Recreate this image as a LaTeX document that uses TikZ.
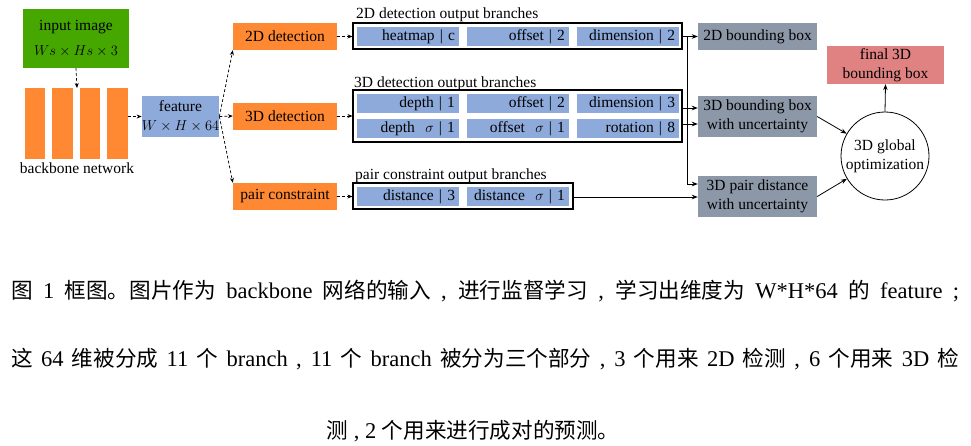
\documentclass[tikz,border=0pt]{standalone}
\usepackage{fontspec}
\setmainfont{Liberation Serif}
\newfontfamily\cjk[Scale=0.96]{Noto Sans CJK SC}
\usetikzlibrary{arrows.meta}
\definecolor{cgreen}{HTML}{45A700}
\definecolor{corange}{HTML}{FF8833}
\definecolor{cblue}{HTML}{8EAADB}
\definecolor{cgray}{HTML}{8C97A8}
\definecolor{cpink}{HTML}{E08282}
\begin{document}
\begin{tikzpicture}[x=1pt,y=-1pt,
  font=\fontsize{15.5}{19}\selectfont,
  base/.style={inner sep=0pt, align=center, text=black},
  orangebox/.style={base, fill=corange, minimum width=104pt, minimum height=27pt},
  bar/.style={base, fill=corange, minimum width=20.5pt, minimum height=71pt},
  cellbox/.style={base, fill=cblue, minimum width=102pt, minimum height=19pt, text width=94pt, align=right},
  framebox/.style={draw=black, line width=1.1pt, fill=white, inner sep=0pt},
  graybox/.style={base, fill=cgray, minimum width=119pt},
  lbl/.style={inner sep=0pt, anchor=base west},
  darr/.style={densely dashed, line width=0.7pt, -{Stealth[length=5pt,width=4pt]}},
  sarr/.style={line width=0.8pt, -{Stealth[length=6pt,width=4.5pt]}},
  capfont/.style={font=\fontsize{22.5}{26}\selectfont, inner sep=0pt}
]
\useasboundingbox (0,0) rectangle (971,445);
\fill[white] (0,0) rectangle (971,445);

% input and backbone
\node[base, fill=cgreen, minimum width=106pt, minimum height=59pt] (inp) at (76,38.5) {input image\\[6pt]$Ws\times Hs\times 3$};
\node[bar] (bar1) at (35,123.5) {};
\node[bar] (bar2) at (62.5,123.5) {};
\node[bar] (bar3) at (90,123.5) {};
\node[bar] (bar4) at (117.5,123.5) {};
\node[inner sep=0pt] (bbl) at (77,168) {backbone network};
\coordinate (bbtop) at (77,88);
\node[base, fill=cblue, minimum width=73pt, minimum height=41pt] (feat) at (180.5,116.5) {feature\\$W\times H\times 64$};

% detection heads
\node[orangebox] (d2) at (285,36.5) {2D detection};
\node[orangebox] (d3) at (285,116) {3D detection};
\node[orangebox] (dp) at (285,196.5) {pair constraint};

% frames
\node[framebox, minimum width=329pt, minimum height=26pt] (f2) at (517.5,36) {};
\node[framebox, minimum width=329pt, minimum height=52pt] (f3) at (517.5,116) {};
\node[framebox, minimum width=220pt, minimum height=26pt] (fp) at (463,196) {};

\node[lbl] (l2) at (356,18.5) {2D detection output branches};
\node[lbl] (l3) at (354,87.5) {3D detection output branches};
\node[lbl] (lp) at (355,179.5) {pair constraint output branches};

% cells
\node[cellbox] (c21) at (408,36.5) {heatmap | c};
\node[cellbox] (c22) at (518,36.5) {offset | 2};
\node[cellbox] (c23) at (628,36.5) {dimension | 2};
\node[cellbox] (c31) at (408,103.5) {depth | 1};
\node[cellbox] (c32) at (518,103.5) {offset | 2};
\node[cellbox] (c33) at (628,103.5) {dimension | 3};
\node[cellbox] (c34) at (408,128.5) {depth\ \ $\sigma$ | 1};
\node[cellbox] (c35) at (518,128.5) {offset\ \ $\sigma$ | 1};
\node[cellbox] (c36) at (628,128.5) {rotation | 8};
\node[cellbox] (cp1) at (408,196.5) {distance | 3};
\node[cellbox] (cp2) at (518,196.5) {distance\ \ $\sigma$ | 1};

% outputs
\node[graybox, minimum height=27pt] (b2) at (757.5,36.5) {2D bounding box};
\node[graybox, minimum height=41pt] (b3) at (757.5,116.5) {3D bounding box\\with uncertainty};
\node[graybox, minimum height=41pt] (bp) at (757.5,196.5) {3D pair distance\\with uncertainty};
\node[circle, draw=black, line width=0.8pt, minimum size=88pt, inner sep=0pt, align=center] (opt) at (885,156) {3D global\\optimization};
\node[base, fill=cpink, minimum width=117pt, minimum height=38pt] (fin) at (885.5,65) {final 3D\\bounding box};

% dashed connectors
\draw[darr] (inp.south) -- (bbtop);
\draw[darr] (bar4.east |- feat.west) -- (feat.west);
\draw[darr] (feat.east) -- (d2.south west);
\draw[darr] (feat.east) -- (d3.west);
\draw[darr] (feat.east) -- (dp.north west);
\draw[darr] (d2.east) -- (f2.west |- d2.east);
\draw[darr] (d3.east) -- (f3.west |- d3.east);
\draw[darr] (dp.east) -- (fp.west |- dp.east);

% solid connectors
\coordinate (vtop) at (687,36);
\coordinate (vbot) at (687,184);
\draw[sarr] (f2.east |- b2.west) -- (b2.west);
\draw[line width=0.8pt] (vtop) -- (vbot);
\draw[sarr] (vbot) -- (bp.west |- vbot);
\draw[sarr] (f3.east |- 0,108) -- (b3.west |- 0,108);
\draw[sarr] (f3.east |- 0,124) -- (b3.west |- 0,124);
\draw[sarr] (fp.east |- 0,197) -- (bp.west |- 0,197);
\draw[sarr] (b3.east) -- (opt);
\draw[sarr] (bp.east) -- (opt);
\draw[sarr] (opt.north) -- (fin.south);

% caption
\node[capfont, anchor=base west] (cap1) at (11,298) {\makebox[948pt][s]{{\cjk 图} 1 {\cjk 框图。图片作为} backbone {\cjk 网络的输入} , {\cjk 进行监督学习} , {\cjk 学习出维度为} W*H*64 {\cjk 的} feature ;}};
\node[capfont, anchor=base west] (cap2) at (11,366) {\makebox[948pt][s]{{\cjk 这} 64 {\cjk 维被分成} 11 {\cjk 个} branch , 11 {\cjk 个} branch {\cjk 被分为三个部分} , 3 {\cjk 个用来} 2D {\cjk 检测} , 6 {\cjk 个用来} 3D {\cjk 检}}};
\node[capfont, anchor=base] (cap3) at (473,438) {{\cjk 测} , 2 {\cjk 个用来进行成对的预测。}};
\end{tikzpicture}
\end{document}
